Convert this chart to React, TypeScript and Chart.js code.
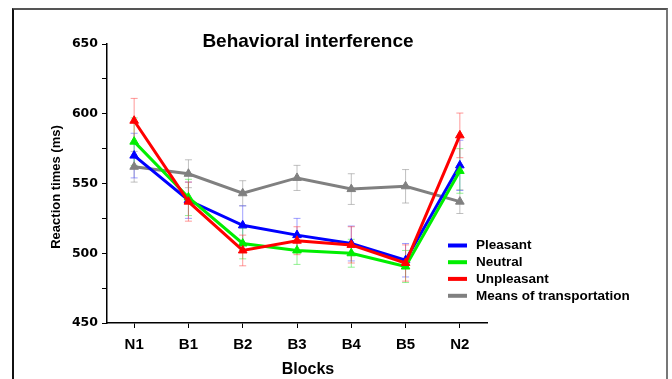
import React, { useEffect, useRef } from "react";
import { Chart, registerables } from "chart.js";

Chart.register(...registerables);

const categories = ["N1", "B1", "B2", "B3", "B4", "B5", "N2"];
const yTicks = [450, 500, 550, 600, 650];

const pleasant = [570, 538, 520, 513, 507, 495, 563];
const pleasantErr = [16, 13, 14, 12, 12.5, 12, 18];
const neutral = [580, 540, 507, 502, 500, 490.5, 559];
const neutralErr = [17, 13, 11, 10, 10, 11.5, 16];
const unpleasant = [595, 537, 502, 509, 506, 493, 584.5];
const unpleasantErr = [16, 14, 11, 10, 13, 13, 16];
const transport = [562, 557, 543, 554, 546, 548, 537];
const transportErr = [11, 10, 9, 9, 11, 12, 8.5];

const seriesNames = ["Pleasant", "Neutral", "Unpleasant", "Means of transportation"];
const seriesColors = ["#0000ff", "#00ee00", "#ff0000", "#808080"];
const errColors = [
  "rgba(80,80,255,0.55)",
  "rgba(60,230,60,0.55)",
  "rgba(255,70,70,0.55)",
  "rgba(150,150,150,0.6)",
];
const seriesValues = [pleasant, neutral, unpleasant, transport];
const seriesErrors = [pleasantErr, neutralErr, unpleasantErr, transportErr];

const FONT = "'Liberation Sans', Arial, sans-serif";

const errorBarPlugin = {
  id: "errorBars",
  beforeDatasetsDraw(chart: any) {
    const ctx = chart.ctx;
    const x = chart.scales.x;
    const y = chart.scales.y;
    ctx.save();
    ctx.lineWidth = 1;
    const order = [3, 0, 1, 2];
    for (const s of order) {
      ctx.strokeStyle = errColors[s];
      const vals = seriesValues[s];
      const errs = seriesErrors[s];
      for (let i = 0; i < vals.length; i++) {
        const px = x.getPixelForValue(i);
        const top = y.getPixelForValue(vals[i] + errs[i]);
        const bot = y.getPixelForValue(vals[i] - errs[i]);
        ctx.beginPath();
        ctx.moveTo(px, top);
        ctx.lineTo(px, bot);
        ctx.moveTo(px - 3.5, top);
        ctx.lineTo(px + 3.5, top);
        ctx.moveTo(px - 3.5, bot);
        ctx.lineTo(px + 3.5, bot);
        ctx.stroke();
      }
    }
    ctx.restore();
  },
  afterDraw(chart: any) {
    const ctx = chart.ctx;
    const area = chart.chartArea;
    ctx.save();
    ctx.fillStyle = "#000";
    // title
    ctx.font = `bold 19px ${FONT}`;
    ctx.textAlign = "center";
    ctx.textBaseline = "middle";
    ctx.fillText("Behavioral interference", 308, 42);
    // x title
    ctx.font = `bold 16px ${FONT}`;
    ctx.fillText("Blocks", 308, 370);
    // y title
    ctx.save();
    ctx.translate(56, 187);
    ctx.rotate(-Math.PI / 2);
    ctx.font = `bold 13px ${FONT}`;
    ctx.fillText("Reaction times (ms)", 0, 0);
    ctx.restore();
    // legend
    const lx = area.right - 39;
    const rows = [245.5, 262.2, 278.9, 295.8];
    for (let i = 0; i < seriesNames.length; i++) {
      ctx.strokeStyle = seriesColors[i];
      ctx.lineWidth = 4;
      ctx.beginPath();
      ctx.moveTo(lx, rows[i]);
      ctx.lineTo(lx + 19, rows[i]);
      ctx.stroke();
      ctx.fillStyle = "#000";
      ctx.font = `bold 13.5px ${FONT}`;
      ctx.textAlign = "left";
      ctx.textBaseline = "middle";
      ctx.fillText(seriesNames[i], lx + 28, rows[i]);
    }
    ctx.restore();
  },
};

export default function App() {
  const ref = useRef<HTMLCanvasElement | null>(null);
  useEffect(() => {
    if (!ref.current) return;
    const drawOrder = [3, 2, 1, 4];
    const chart = new Chart(ref.current, {
      type: "line",
      data: {
        labels: categories,
        datasets: seriesNames.map((name, i) => ({
          label: name,
          data: seriesValues[i],
          borderColor: seriesColors[i],
          backgroundColor: seriesColors[i],
          borderWidth: 3,
          pointStyle: "triangle",
          pointRadius: 5,
          pointBorderWidth: 1,
          tension: 0,
          order: drawOrder[i],
        })),
      },
      options: {
        animation: false,
        responsive: false,
        events: [],
        layout: { padding: { left: 0, top: 44, right: 185, bottom: 0 } },
        plugins: {
          legend: { display: false },
          title: { display: false },
          tooltip: { enabled: false },
        },
        scales: {
          x: {
            type: "category",
            offset: true,
            grid: {
              display: true,
              drawOnChartArea: false,
              drawTicks: true,
              tickLength: 5,
              color: "#000",
              offset: false,
            },
            border: { display: true, color: "#000", width: 1.5 },
            ticks: {
              color: "#000",
              font: { family: FONT, size: 15, weight: "bold" },
              padding: 8,
              maxRotation: 0,
            },
            afterFit(scale: any) {
              scale.height = 56;
            },
          },
          y: {
            min: 450,
            max: 650,
            grid: {
              display: true,
              drawOnChartArea: false,
              drawTicks: true,
              tickLength: 5,
              color: "#000",
            },
            border: { display: true, color: "#000", width: 1.5 },
            ticks: {
              stepSize: 25,
              color: "#000",
              font: { family: "'DejaVu Sans', sans-serif", size: 12.5, weight: "bold" },
              padding: 4,
              callback: (v: any) => (yTicks.includes(Number(v)) ? String(v) : ""),
            },
            afterFit(scale: any) {
              scale.width = 107;
            },
          },
        },
      },
      plugins: [errorBarPlugin],
    });
    return () => chart.destroy();
  }, []);
  return (
    <div style={{ position: "absolute", left: 0, top: 0, width: 672, height: 379, background: "#fff", overflow: "hidden" }}>
      <div
        style={{
          position: "absolute",
          left: 12,
          top: 8,
          width: 656,
          height: 400,
          borderLeft: "2px solid #111",
          borderTop: "2px solid #555",
          borderRight: "2px solid #777",
          boxSizing: "border-box",
        }}
      />
      <canvas ref={ref} width={672} height={379} style={{ position: "absolute", left: 0, top: 0 }} />
    </div>
  );
}
